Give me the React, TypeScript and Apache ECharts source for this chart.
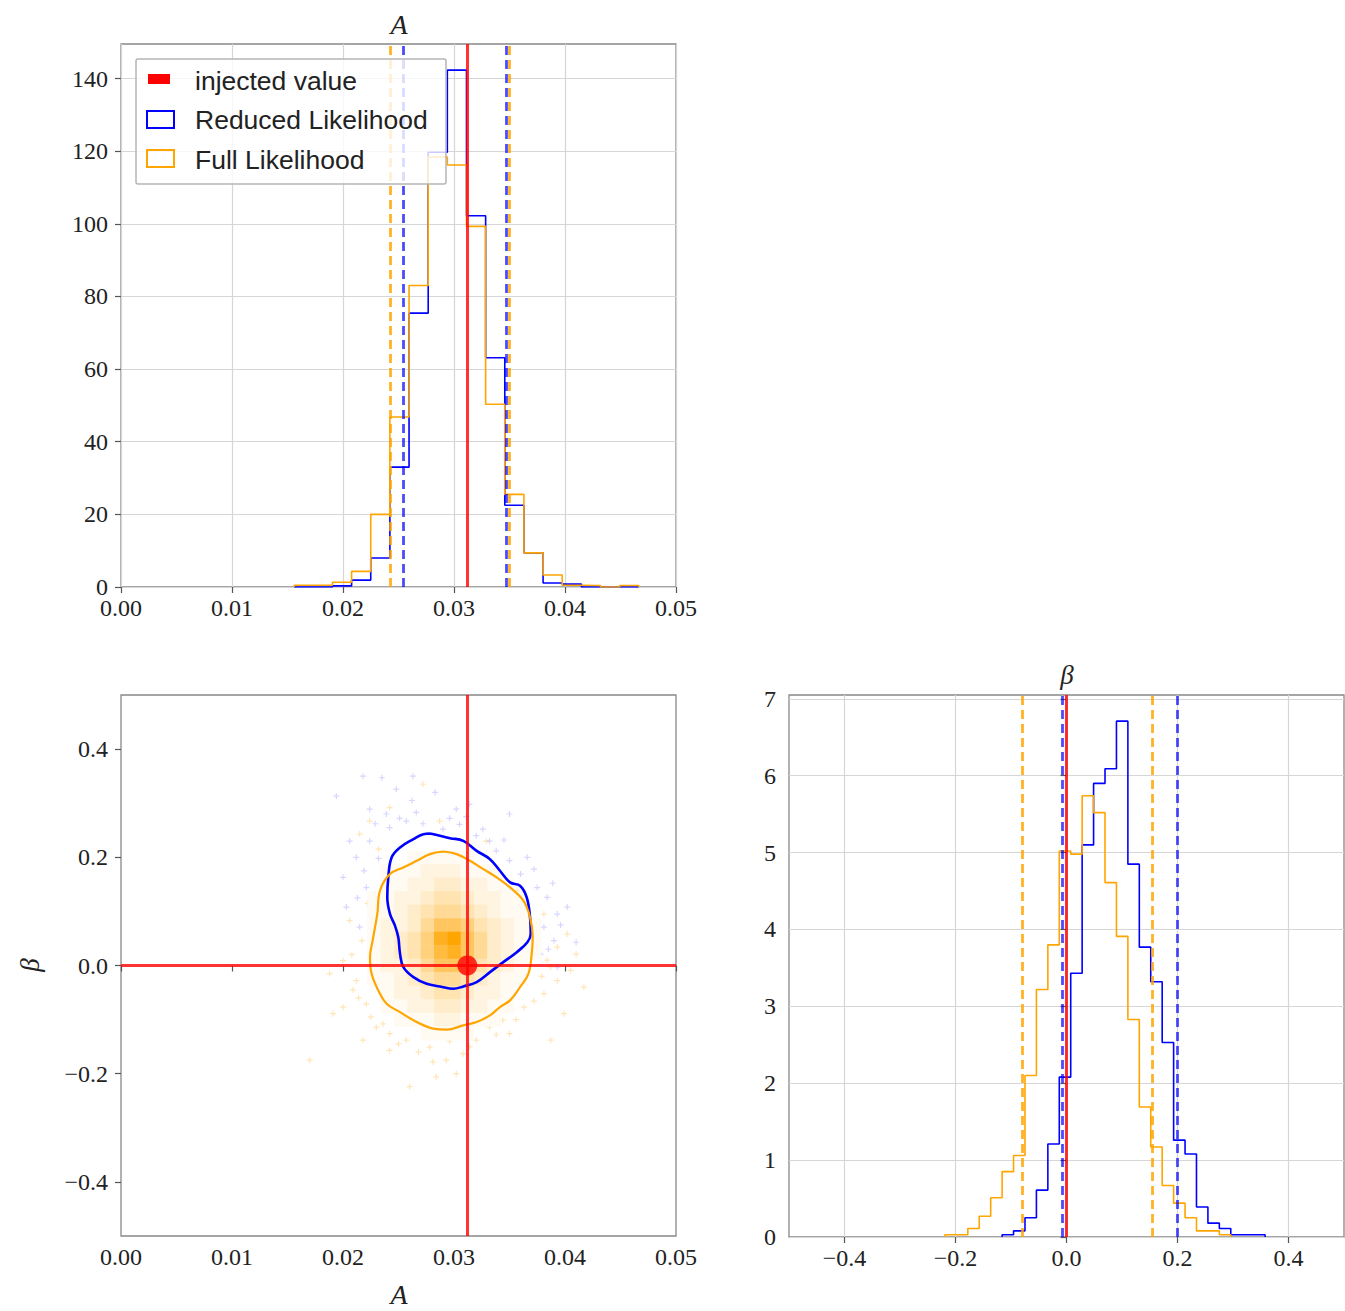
import React, { useEffect, useRef } from "react";
import * as echarts from "echarts";

// ---------------- data ----------------
const A_INJECTED = 0.0312;
const BETA_INJECTED = 0.0;

// A histograms (counts per bin)
const A_BIN_START = 0.0156;
const A_BIN_WIDTH = 0.001725;
const A_REDUCED = [0, 0, 0.3, 1.9, 8, 33, 75.4, 119.7, 142.3, 102.2, 63.1, 22.5, 9.4, 1.1, 0.8, 0, 0, 0];
const A_FULL = [0.5, 0.5, 1.3, 4.3, 20, 46.8, 83, 118.4, 116.2, 99.3, 50.3, 25.5, 9.4, 3.3, 0.5, 0.4, 0, 0.4];
const A_REDUCED_BOUNDS = [0.02544, 0.03474];
const A_FULL_BOUNDS = [0.02423, 0.03498];

// beta histograms (density per bin)
const BETA_BIN_START = -0.219;
const BETA_BIN_WIDTH = 0.0206;
const BETA_FULL_FIRST_BIN = 0;
const BETA_FULL = [0.03, 0.03, 0.11, 0.27, 0.51, 0.85, 1.06, 2.1, 3.22, 3.8, 5.02, 4.98, 5.74, 5.52, 4.61, 3.91, 2.83, 1.69, 1.17, 0.67, 0.44, 0.25, 0.08, 0.08, 0.03];
const BETA_REDUCED_FIRST_BIN = 5;
const BETA_REDUCED = [0.03, 0.08, 0.25, 0.61, 1.21, 2.08, 3.43, 5.1, 5.9, 6.09, 6.71, 4.85, 3.77, 3.32, 2.53, 1.26, 1.08, 0.39, 0.18, 0.11, 0.03, 0.03, 0.03];
const BETA_REDUCED_BOUNDS = [-0.008, 0.199];
const BETA_FULL_BOUNDS = [-0.08, 0.154];

// tick values
const A_TICKS = [0, 0.01, 0.02, 0.03, 0.04, 0.05];
const A_COUNT_TICKS = [0, 20, 40, 60, 80, 100, 120, 140];
const BETA_TICKS = [-0.4, -0.2, 0, 0.2, 0.4];
const BETA_DENSITY_TICKS = [0, 1, 2, 3, 4, 5, 6, 7];

// 2D contours (A, beta)
const REDUCED_CONTOUR = [
  [0.02784, 0.2439], [0.02964, 0.2354], [0.03084, 0.2304], [0.03204, 0.212], [0.03324, 0.1966],
  [0.03414, 0.1751], [0.03505, 0.1536], [0.03595, 0.1475], [0.03655, 0.126], [0.03685, 0.0891],
  [0.03691, 0.0584], [0.03661, 0.043], [0.03565, 0.0246], [0.03444, 0.0062], [0.03324, -0.0123],
  [0.03204, -0.0307], [0.03084, -0.0387], [0.02994, -0.043], [0.02874, -0.0387], [0.02754, -0.0338],
  [0.02634, -0.0215], [0.02544, -0.0031], [0.02514, 0.0215], [0.02498, 0.0522], [0.02468, 0.0737],
  [0.02423, 0.0953], [0.02399, 0.126], [0.02408, 0.1628], [0.02438, 0.1997], [0.02514, 0.2181],
  [0.02634, 0.2335], [0.02724, 0.2427], [0.02784, 0.2439],
];
const FULL_CONTOUR = [
  [0.02904, 0.2107], [0.03024, 0.2058], [0.03144, 0.1935], [0.03264, 0.1782], [0.03384, 0.1628],
  [0.03505, 0.1443], [0.03625, 0.1198], [0.03685, 0.0891], [0.03709, 0.0522], [0.037, 0.0215],
  [0.0367, -0.0154], [0.03595, -0.0399], [0.03505, -0.0645], [0.03414, -0.0768], [0.03324, -0.0922],
  [0.03204, -0.1045], [0.03084, -0.1106], [0.02934, -0.1186], [0.02814, -0.1167], [0.02664, -0.1045],
  [0.02514, -0.0861], [0.02393, -0.0706], [0.02318, -0.0461], [0.02258, -0.0154], [0.02243, 0.0153],
  [0.02267, 0.0461], [0.02309, 0.0953], [0.02333, 0.1382], [0.02423, 0.169], [0.02544, 0.1812],
  [0.02664, 0.1935], [0.02784, 0.2058], [0.02904, 0.2107],
];

// scattered samples outside the contours
const REDUCED_SAMPLES = [
  [0.0194, 0.313], [0.0218, 0.35], [0.0235, 0.347], [0.0263, 0.35], [0.0283, 0.32], [0.0248, 0.326],
  [0.0224, 0.289], [0.0239, 0.28], [0.0257, 0.267], [0.0266, 0.283], [0.0302, 0.289], [0.0305, 0.261],
  [0.0332, 0.23], [0.0338, 0.212], [0.035, 0.194], [0.036, 0.169], [0.0375, 0.144], [0.0384, 0.126],
  [0.0393, 0.095], [0.0402, 0.108], [0.0381, 0.071], [0.039, 0.046], [0.041, 0.043], [0.0378, 0.021],
  [0.0393, -0.003], [0.0206, 0.23], [0.0212, 0.2], [0.02, 0.163], [0.0221, 0.144], [0.0203, 0.108],
  [0.0215, 0.071], [0.0224, 0.23], [0.0242, 0.255], [0.032, 0.24], [0.029, 0.252], [0.035, 0.28],
  [0.0314, 0.298], [0.0229, 0.262], [0.0251, 0.272], [0.0272, 0.262], [0.0296, 0.272], [0.0326, 0.252],
  [0.0345, 0.232], [0.0366, 0.2], [0.0372, 0.178], [0.0389, 0.152], [0.0396, 0.075], [0.0385, 0.03],
  [0.0232, 0.198], [0.0219, 0.175], [0.0213, 0.125], [0.0228, 0.09], [0.0262, 0.305], [0.0311, 0.275],
];
const FULL_SAMPLES = [
  [0.0206, 0.083], [0.0217, 0.046], [0.02, 0.009], [0.0212, -0.028], [0.0221, -0.071], [0.02, -0.077],
  [0.023, -0.114], [0.0242, -0.126], [0.0257, -0.138], [0.0278, -0.151], [0.0293, -0.175], [0.0308, -0.163],
  [0.032, -0.138], [0.0332, -0.114], [0.0344, -0.101], [0.0363, -0.077], [0.0381, -0.052], [0.0393, -0.028],
  [0.0405, -0.009], [0.0387, -0.003], [0.041, 0.021], [0.0402, 0.058], [0.0417, -0.04], [0.0399, -0.089],
  [0.0387, -0.138], [0.035, -0.126], [0.0302, -0.2], [0.0284, -0.206], [0.026, -0.224], [0.0242, -0.157],
  [0.0218, -0.138], [0.0191, -0.089], [0.0188, -0.015], [0.017, -0.175], [0.0215, 0.243], [0.0224, 0.267],
  [0.0242, 0.292], [0.0287, 0.267], [0.0272, 0.335], [0.0329, 0.23], [0.0357, 0.138], [0.0381, 0.095],
  [0.0393, 0.034], [0.0214, -0.06], [0.0225, -0.095], [0.0236, -0.108], [0.025, -0.145], [0.0268, -0.16],
  [0.0281, -0.178], [0.0296, -0.14], [0.0314, -0.15], [0.0338, -0.128], [0.0356, -0.1], [0.0372, -0.066],
  [0.0379, -0.02], [0.0384, 0.01], [0.0208, 0.02], [0.0209, -0.045], [0.0222, 0.115], [0.0232, 0.215],
];

// 2D density (relative, 0-10), rows from top (high beta) to bottom
const DENSITY_X_START = 0.0222;
const DENSITY_X_STEP = 0.0012;
const DENSITY_Y_TOP = 0.2125;
const DENSITY_Y_STEP = 0.025;
const DENSITY_ROWS = [
  [0, 0, 0, 1, 1, 1, 1, 1, 0, 0, 0, 0, 0],
  [0, 1, 1, 1, 2, 2, 2, 1, 1, 1, 0, 0, 0],
  [0, 1, 1, 2, 2, 3, 3, 2, 2, 1, 1, 0, 0],
  [1, 1, 2, 2, 3, 4, 4, 3, 2, 2, 1, 1, 0],
  [1, 1, 2, 3, 4, 5, 5, 4, 3, 2, 1, 1, 0],
  [1, 2, 2, 3, 5, 7, 7, 6, 4, 3, 2, 1, 1],
  [1, 2, 3, 4, 6, 9, 10, 7, 5, 3, 2, 1, 1],
  [1, 2, 3, 4, 6, 8, 9, 7, 5, 3, 2, 1, 1],
  [1, 2, 2, 3, 5, 7, 7, 6, 4, 3, 2, 1, 0],
  [1, 1, 2, 3, 4, 5, 5, 4, 3, 2, 1, 1, 0],
  [0, 1, 2, 2, 3, 4, 4, 3, 2, 2, 1, 0, 0],
  [0, 1, 1, 2, 2, 3, 3, 2, 2, 1, 1, 0, 0],
  [0, 0, 1, 1, 1, 2, 2, 1, 1, 1, 0, 0, 0],
  [0, 0, 0, 0, 1, 1, 1, 1, 0, 0, 0, 0, 0],
];

// ---------------- helpers ----------------
const BLUE = "#0000ff";
const ORANGE = "#ffa500";
const SERIF = "Liberation Serif";
const SANS = "Liberation Sans";

function stepOutline(start: number, width: number, firstBin: number, values: number[]) {
  const pts: number[][] = [];
  pts.push([start + firstBin * width, 0]);
  values.forEach((v, i) => {
    const l = start + (firstBin + i) * width;
    pts.push([l, v]);
    pts.push([l + width, v]);
  });
  pts.push([start + (firstBin + values.length) * width, 0]);
  return pts;
}

const minus = (s: string) => s.replace("-", "\u2212");

function axisCommon(labels: number[], fmt: (v: number) => string, grid: boolean, isX: boolean) {
  return {
    type: "value",
    axisLine: { show: false },
    axisTick: { show: true, inside: false, length: 6, customValues: labels, lineStyle: { color: "#555", width: 1.2 } },
    axisLabel: {
      customValues: labels,
      formatter: (v: number) => fmt(v),
      fontFamily: SERIF,
      fontSize: 24,
      lineHeight: 20,
      color: "#222",
      margin: isX ? 11 : 13,
    },
    splitLine: { show: grid, lineStyle: { color: "#d6d6d6", width: 1.2 } },
  };
}

function densityData() {
  const out: number[][] = [];
  DENSITY_ROWS.forEach((row, r) => {
    row.forEach((v, c) => {
      if (v <= 0) return;
      const x0 = DENSITY_X_START + c * DENSITY_X_STEP;
      const y1 = DENSITY_Y_TOP - r * DENSITY_Y_STEP;
      out.push([x0, y1 - DENSITY_Y_STEP, x0 + DENSITY_X_STEP, y1, v]);
    });
  });
  return out;
}

function vline(x: number, color: string, dashed: boolean, width: number) {
  return {
    xAxis: x,
    lineStyle: { color, width, type: dashed ? [9, 5] : "solid" },
  };
}

const CROSS = "path://M4,0H6V4H10V6H6V10H4V6H0V4H4Z";

export default function App() {
  const ref = useRef<HTMLDivElement>(null);

  useEffect(() => {
    if (!ref.current) return;
    const chart = echarts.init(ref.current, undefined, { renderer: "svg" });

    const markLineBase = { symbol: ["none", "none"], silent: true, precision: 6, label: { show: false }, animation: false };

    const option: any = {
      animation: false,
      backgroundColor: "#ffffff",
      grid: [
        { left: 121, top: 44, width: 555, height: 543, show: true, borderColor: "#888", borderWidth: 1.3, backgroundColor: "transparent" },
        { left: 121, top: 695, width: 555, height: 541, show: true, borderColor: "#888", borderWidth: 1.3, backgroundColor: "transparent" },
        { left: 789, top: 695, width: 555, height: 542, show: true, borderColor: "#888", borderWidth: 1.3, backgroundColor: "transparent" },
      ],
      xAxis: [
        { gridIndex: 0, min: 0, max: 0.05, ...axisCommon(A_TICKS, (v) => v.toFixed(2), true, true) },
        { gridIndex: 1, min: 0, max: 0.05, ...axisCommon(A_TICKS, (v) => v.toFixed(2), false, true) },
        { gridIndex: 2, min: -0.5, max: 0.5, ...axisCommon(BETA_TICKS, (v) => minus(v.toFixed(1)), true, true) },
      ],
      yAxis: [
        { gridIndex: 0, min: 0, max: 149.5, ...axisCommon(A_COUNT_TICKS, (v) => String(Math.round(v)), true, false) },
        { gridIndex: 1, min: -0.5, max: 0.5, ...axisCommon(BETA_TICKS, (v) => minus(v.toFixed(1)), false, false) },
        { gridIndex: 2, min: 0, max: 7.05, ...axisCommon(BETA_DENSITY_TICKS, (v) => String(Math.round(v)), true, false) },
      ],
      series: [
        // ---- top: A histogram ----
        {
          type: "line", xAxisIndex: 0, yAxisIndex: 0, symbol: "none", z: 3,
          data: stepOutline(A_BIN_START, A_BIN_WIDTH, 0, A_REDUCED),
          lineStyle: { color: BLUE, width: 1.6 },
        },
        {
          type: "line", xAxisIndex: 0, yAxisIndex: 0, symbol: "none", z: 4,
          data: stepOutline(A_BIN_START, A_BIN_WIDTH, 0, A_FULL),
          lineStyle: { color: ORANGE, width: 1.6 },
        },
        {
          type: "line", xAxisIndex: 0, yAxisIndex: 0, symbol: "none", data: [], z: 5,
          markLine: {
            ...markLineBase,
            data: [
              vline(A_FULL_BOUNDS[0], "rgba(255,165,0,0.85)", true, 2.8),
              vline(A_FULL_BOUNDS[1], "rgba(255,165,0,0.85)", true, 2.8),
              vline(A_REDUCED_BOUNDS[0], "rgba(0,0,255,0.7)", true, 2.8),
              vline(A_REDUCED_BOUNDS[1], "rgba(0,0,255,0.7)", true, 2.8),
              vline(A_INJECTED, "rgba(255,0,0,0.8)", false, 3),
            ],
          },
        },
        // ---- bottom-left: 2D ----
        {
          type: "scatter", xAxisIndex: 1, yAxisIndex: 1, symbol: CROSS, symbolSize: 6, z: 2,
          data: REDUCED_SAMPLES, itemStyle: { color: "rgba(0,0,255,0.2)" },
        },
        {
          type: "scatter", xAxisIndex: 1, yAxisIndex: 1, symbol: CROSS, symbolSize: 6, z: 2,
          data: FULL_SAMPLES, itemStyle: { color: "rgba(255,165,0,0.35)" },
        },
        {
          type: "custom", xAxisIndex: 1, yAxisIndex: 1, z: 3,
          data: densityData(),
          encode: { x: [0, 2], y: [1, 3] },
          renderItem: (params: any, api: any) => {
            const p0 = api.coord([api.value(0), api.value(3)]);
            const p1 = api.coord([api.value(2), api.value(1)]);
            const t = Math.pow(api.value(4) / 10, 1.3);
            const g = Math.round(255 - 90 * t);
            const b = Math.round(255 - 255 * t);
            return {
              type: "rect",
              shape: { x: p0[0], y: p0[1], width: p1[0] - p0[0] + 0.5, height: p1[1] - p0[1] + 0.5 },
              style: { fill: `rgb(255,${g},${b})` },
            };
          },
        },
        {
          type: "line", xAxisIndex: 1, yAxisIndex: 1, symbol: "none", smooth: 0.4, z: 4,
          data: REDUCED_CONTOUR, lineStyle: { color: BLUE, width: 2.6 },
        },
        {
          type: "line", xAxisIndex: 1, yAxisIndex: 1, symbol: "none", smooth: 0.4, z: 4,
          data: FULL_CONTOUR, lineStyle: { color: ORANGE, width: 2.2 },
        },
        {
          type: "line", xAxisIndex: 1, yAxisIndex: 1, symbol: "none", data: [], z: 5,
          markLine: {
            ...markLineBase,
            data: [
              { xAxis: A_INJECTED, lineStyle: { color: "rgba(255,0,0,0.8)", width: 3, type: "solid" } },
              { yAxis: BETA_INJECTED, lineStyle: { color: "rgba(255,0,0,0.8)", width: 3, type: "solid" } },
            ],
          },
        },
        {
          type: "scatter", xAxisIndex: 1, yAxisIndex: 1, symbol: "circle", symbolSize: 20, z: 6,
          data: [[A_INJECTED, BETA_INJECTED]], itemStyle: { color: "#ff0000" },
        },
        // ---- bottom-right: beta histogram ----
        {
          type: "line", xAxisIndex: 2, yAxisIndex: 2, symbol: "none", z: 3,
          data: stepOutline(BETA_BIN_START, BETA_BIN_WIDTH, BETA_REDUCED_FIRST_BIN, BETA_REDUCED),
          lineStyle: { color: BLUE, width: 1.6 },
        },
        {
          type: "line", xAxisIndex: 2, yAxisIndex: 2, symbol: "none", z: 4,
          data: stepOutline(BETA_BIN_START, BETA_BIN_WIDTH, BETA_FULL_FIRST_BIN, BETA_FULL),
          lineStyle: { color: ORANGE, width: 1.6 },
        },
        {
          type: "line", xAxisIndex: 2, yAxisIndex: 2, symbol: "none", data: [], z: 5,
          markLine: {
            ...markLineBase,
            data: [
              vline(BETA_FULL_BOUNDS[0], "rgba(255,165,0,0.85)", true, 2.8),
              vline(BETA_FULL_BOUNDS[1], "rgba(255,165,0,0.85)", true, 2.8),
              vline(BETA_REDUCED_BOUNDS[0], "rgba(0,0,255,0.7)", true, 2.8),
              vline(BETA_REDUCED_BOUNDS[1], "rgba(0,0,255,0.7)", true, 2.8),
              vline(BETA_INJECTED, "rgba(255,0,0,0.8)", false, 3),
            ],
          },
        },
      ],
      graphic: [
        // titles / axis names
        { type: "text", x: 399, y: 24, z: 100, style: { text: "A", fontFamily: SERIF, fontStyle: "italic", fontSize: 28, fill: "#222", align: "center", verticalAlign: "middle" } },
        { type: "text", x: 1067, y: 675, z: 100, style: { text: "β", fontFamily: SERIF, fontStyle: "italic", fontSize: 27, fill: "#222", align: "center", verticalAlign: "middle" } },
        { type: "text", x: 399, y: 1294, z: 100, style: { text: "A", fontFamily: SERIF, fontStyle: "italic", fontSize: 28, fill: "#222", align: "center", verticalAlign: "middle" } },
        { type: "text", x: 30, y: 965, rotation: Math.PI / 2, z: 100, style: { text: "β", fontFamily: SERIF, fontStyle: "italic", fontSize: 27, fill: "#222", align: "center", verticalAlign: "middle" } },
        // legend
        { type: "rect", z: 100, shape: { x: 136, y: 59, width: 310, height: 125, r: 2 }, style: { fill: "rgba(255,255,255,0.8)", stroke: "#b5b5b5", lineWidth: 1.5 } },
        { type: "rect", z: 101, shape: { x: 148, y: 74, width: 22, height: 10 }, style: { fill: "#ff0000" } },
        { type: "rect", z: 101, shape: { x: 147, y: 111, width: 27, height: 17 }, style: { fill: "none", stroke: BLUE, lineWidth: 2 } },
        { type: "rect", z: 101, shape: { x: 147, y: 150, width: 27, height: 17 }, style: { fill: "none", stroke: ORANGE, lineWidth: 2 } },
        { type: "text", x: 195, y: 81, z: 101, style: { text: "injected value", fontFamily: SANS, fontSize: 26.5, fill: "#222", align: "left", verticalAlign: "middle" } },
        { type: "text", x: 195, y: 120, z: 101, style: { text: "Reduced Likelihood", fontFamily: SANS, fontSize: 26.5, fill: "#222", align: "left", verticalAlign: "middle" } },
        { type: "text", x: 195, y: 160, z: 101, style: { text: "Full Likelihood", fontFamily: SANS, fontSize: 26.5, fill: "#222", align: "left", verticalAlign: "middle" } },
      ],
    };

    chart.setOption(option);
    return () => chart.dispose();
  }, []);

  return (
    <div
      ref={ref}
      style={{ position: "absolute", left: 0, top: 0, width: 1345, height: 1311 }}
    />
  );
}
